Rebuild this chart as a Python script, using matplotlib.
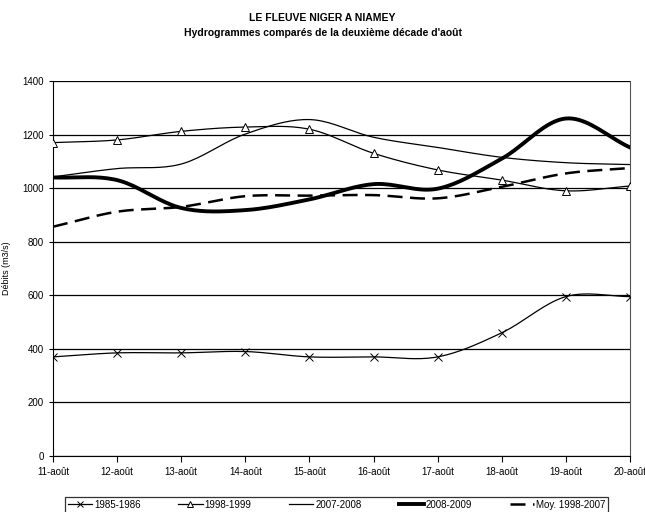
import numpy as np
import matplotlib
matplotlib.use('Agg')
from matplotlib import pyplot as plt

plt.rcParams['font.family'] = ['Liberation Sans Narrow', 'Liberation Sans', 'DejaVu Sans']

# données
jours = ['11-août', '12-août', '13-août', '14-août', '15-août',
         '16-août', '17-août', '18-août', '19-août', '20-août']
d_1985 = [370, 385, 385, 390, 370, 370, 370, 460, 595, 595]
d_1998 = [1170, 1180, 1212, 1228, 1220, 1130, 1068, 1030, 990, 1008]
d_2007 = [1042, 1073, 1090, 1202, 1256, 1190, 1152, 1115, 1095, 1088]
d_2008 = [1040, 1030, 926, 918, 958, 1015, 998, 1110, 1260, 1152]
d_moy = [856, 912, 930, 970, 972, 974, 962, 1005, 1055, 1075]
labels = ['1985-1986', '1998-1999', '2007-2008', '2008-2009', 'Moy. 1998-2007']


def lisse(y, n=20):
    # courbe lissée (style Excel) passant par les points
    y = np.asarray(y, float)
    x = np.arange(len(y))
    p = np.concatenate([[2 * y[0] - y[1]], y, [2 * y[-1] - y[-2]]])
    xs, ys = [], []
    for i in range(len(y) - 1):
        t = np.linspace(0, 1, n, endpoint=False)
        p0, p1, p2, p3 = p[i], p[i + 1], p[i + 2], p[i + 3]
        yy = 0.5 * ((2 * p1) + (-p0 + p2) * t + (2 * p0 - 5 * p1 + 4 * p2 - p3) * t ** 2
                    + (-p0 + 3 * p1 - 3 * p2 + p3) * t ** 3)
        xs.append(x[i] + t)
        ys.append(yy)
    xs.append([x[-1]])
    ys.append([y[-1]])
    return np.concatenate(xs), np.concatenate(ys)


fig = plt.figure(figsize=(6.45, 5.12), dpi=100)
ax = fig.add_axes([53 / 645, 1 - 456 / 512, 577 / 645, 375 / 512])

x = np.arange(len(jours))
series = [
    (d_1985, dict(color='black', lw=0.9), dict(marker='x', ms=6, mew=0.7)),
    (d_1998, dict(color='black', lw=0.9), dict(marker='^', ms=6, mew=0.7, mfc='white')),
    (d_2007, dict(color='black', lw=0.9), {}),
    (d_2008, dict(color='black', lw=2.8), {}),
    (d_moy, dict(color='black', lw=1.8, dashes=(6, 3)), {}),
]
handles = []
for (vals, ls, mk), lab in zip(series, labels):
    xs, ys = lisse(vals)
    ax.plot(xs, ys, zorder=3, **ls)
    if mk:
        ax.plot(x, vals, ls='none', color='black', zorder=4, **mk)
    h, = ax.plot([], [], label=lab, **ls, **{k: (v * 0.7 if k == 'ms' else v) for k, v in mk.items()})
    handles.append(h)

ax.set_xlim(0, 9)
ax.set_ylim(0, 1400)
ax.set_yticks(range(0, 1401, 200))
ax.set_xticks(x)
ax.set_xticklabels(jours, fontsize=7)
ax.tick_params(axis='y', labelsize=7, length=3, width=0.8)
ax.tick_params(axis='x', length=4, width=0.8, pad=4)
ax.yaxis.grid(True, color='black', lw=0.9)
ax.set_axisbelow(True)
ax.spines['top'].set_visible(False)
ax.spines['right'].set_color('#555555')
ax.set_ylabel('Débits (m3/s)', fontsize=6.5, labelpad=8)

fig.text(0.5, 1 - 18 / 512, 'LE FLEUVE NIGER A NIAMEY', ha='center', va='center',
         fontsize=7.5, fontweight='bold')
fig.text(0.5, 1 - 33 / 512, "Hydrogrammes comparés de la deuxième décade d'août", ha='center',
         va='center', fontsize=7.5, fontweight='bold')

leg = fig.legend(handles=handles, loc='upper left', ncol=5, mode='expand',
                 bbox_to_anchor=(60 / 645, 1 - 492 / 512, 553 / 645, 0),
                 fontsize=7, frameon=True, fancybox=False, edgecolor='black',
                 handlelength=2.5, handletextpad=0.2, borderpad=0.3)
leg.get_frame().set_linewidth(0.9)

fig.savefig('out.png', dpi=100)
